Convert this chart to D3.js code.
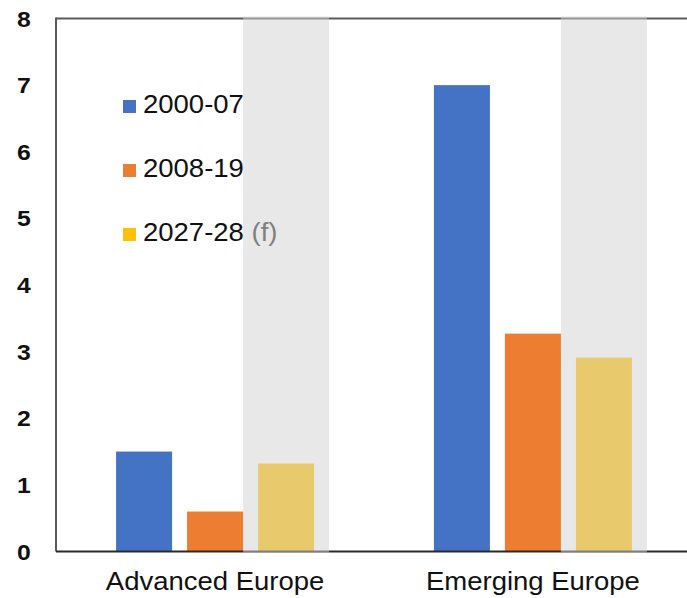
<!DOCTYPE html>
<html><head><meta charset="utf-8">
<script src="https://cdn.jsdelivr.net/npm/d3@7"></script>
<style>html,body{margin:0;padding:0;background:#fff;overflow:hidden}</style>
</head><body>
<svg id="c" width="687" height="598"></svg>
<script>
const categories = ["Advanced Europe", "Emerging Europe"];
const seriesNames = ["2000-07", "2008-19", "2027-28"];
const seriesSuffix = ["", "", " (f)"];
const s2000_07 = [1.5, 7.0];
const s2008_19 = [0.6, 3.27];
const s2027_28 = [1.32, 2.91];
const yTicks = [0, 1, 2, 3, 4, 5, 6, 7, 8];
const colors = ["#4472C4", "#ED7D31", "#FFC000"];

const seriesValues = [s2000_07, s2008_19, s2027_28];
const svg = d3.select("#c");
const m = {left: 56, top: 18.5, right: 692, bottom: 551.5};

const x0 = d3.scaleBand().domain(categories).range([m.left, m.right]).paddingInner(0.377).paddingOuter(0.189);
const x1 = d3.scaleBand().domain(seriesNames).range([0, x0.bandwidth()]).paddingInner(0.211);
const y = d3.scaleLinear().domain([0, 8]).range([m.bottom, m.top]);

// bars
categories.forEach((c, ci) => {
  seriesNames.forEach((s, si) => {
    svg.append("rect")
      .attr("x", x0(c) + x1(s))
      .attr("y", y(seriesValues[si][ci]))
      .attr("width", x1.bandwidth())
      .attr("height", y(0) - y(seriesValues[si][ci]))
      .attr("fill", colors[si]);
  });
});

// frame lines
svg.append("line").attr("x1", m.left).attr("x2", m.right).attr("y1", m.top).attr("y2", m.top)
  .attr("stroke", "#5a5a5a").attr("stroke-width", 2);
svg.append("line").attr("x1", m.left).attr("x2", m.left).attr("y1", m.top - 1).attr("y2", m.bottom)
  .attr("stroke", "#5a5a5a").attr("stroke-width", 2);
svg.append("line").attr("x1", m.left).attr("x2", m.right).attr("y1", m.bottom).attr("y2", m.bottom)
  .attr("stroke", "#2a2a2a").attr("stroke-width", 2);

// forecast shading (translucent overlay)
const pad = x1.step() - x1.bandwidth();
categories.forEach(c => {
  svg.append("rect")
    .attr("x", x0(c) + x1("2027-28") - pad)
    .attr("y", m.top - 2)
    .attr("width", x1.bandwidth() + 2 * pad)
    .attr("height", m.bottom - m.top + 3)
    .attr("fill", "rgb(210,210,210)").attr("fill-opacity", 0.51);
});

// y tick labels
const yAxis = svg.append("g");
yTicks.forEach(t => {
  yAxis.append("g").attr("transform", `translate(24,${y(t) + 8}) scale(1.1,1)`)
    .append("text")
    .attr("text-anchor", "middle")
    .attr("font-family", "Liberation Sans, Arial, sans-serif")
    .attr("font-size", 22.5).attr("font-weight", "bold").attr("fill", "#111")
    .text(t);
});

// category labels
categories.forEach(c => {
  svg.append("g").attr("transform", `translate(${x0(c) + x0.bandwidth() / 2},589.5) scale(1.1,1)`)
    .append("text").attr("text-anchor", "middle")
    .attr("font-family", "Liberation Sans, Arial, sans-serif")
    .attr("font-size", 25).attr("fill", "#111").text(c);
});

// legend
seriesNames.forEach((s, i) => {
  const ly = 113 + i * 64;
  svg.append("rect").attr("x", 123).attr("y", ly - 13).attr("width", 13).attr("height", 13)
    .attr("fill", colors[i]);
  const t = svg.append("g").attr("transform", `translate(143,${ly}) scale(1.1,1)`)
    .append("text")
    .attr("font-family", "Liberation Sans, Arial, sans-serif")
    .attr("font-size", 25).attr("fill", "#111");
  t.append("tspan").text(s);
  if (seriesSuffix[i]) t.append("tspan").attr("fill", "#808080").text(seriesSuffix[i]);
});
</script>
</body></html>
